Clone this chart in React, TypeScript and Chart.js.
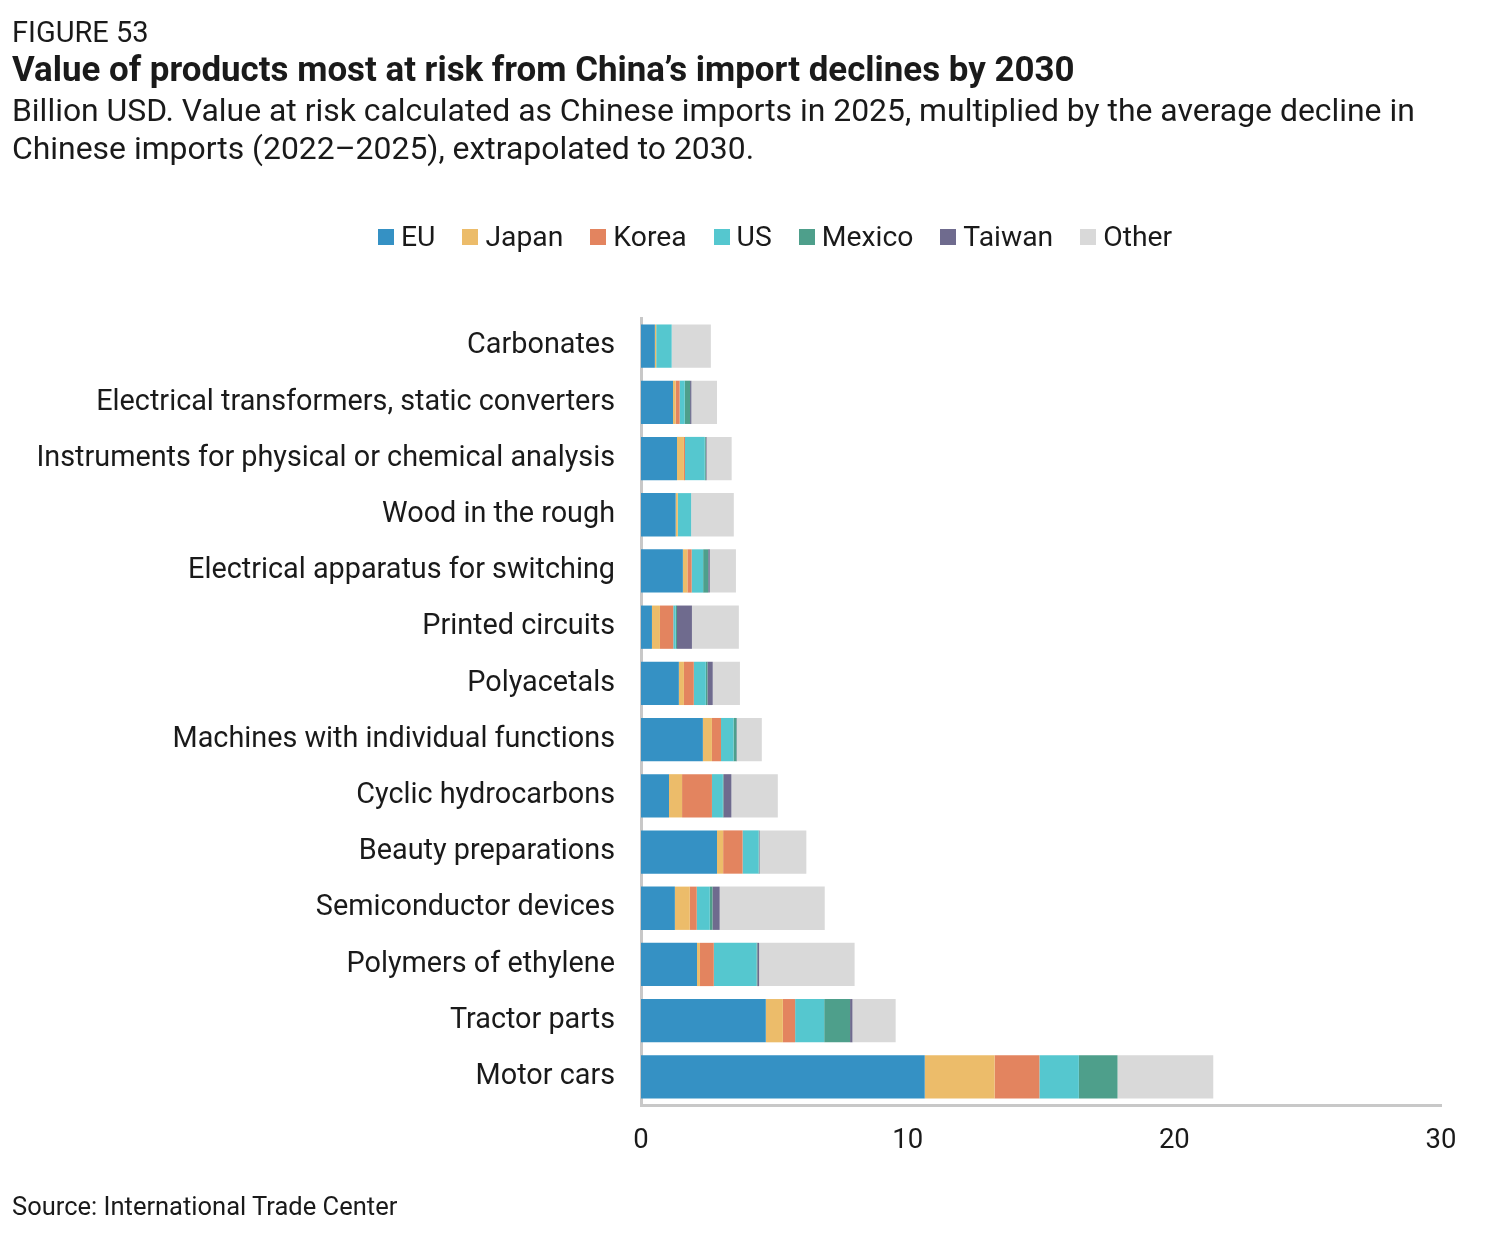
import React, { useEffect, useRef } from "react";
import { Chart, registerables } from "chart.js";

Chart.register(...registerables);

const categories = [
  "Carbonates",
  "Electrical transformers, static converters",
  "Instruments for physical or chemical analysis",
  "Wood in the rough",
  "Electrical apparatus for switching",
  "Printed circuits",
  "Polyacetals",
  "Machines with individual functions",
  "Cyclic hydrocarbons",
  "Beauty preparations",
  "Semiconductor devices",
  "Polymers of ethylene",
  "Tractor parts",
  "Motor cars",
];

const seriesNames = ["EU", "Japan", "Korea", "US", "Mexico", "Taiwan", "Other"];
const seriesColors = ["#3591c4", "#ecbc6a", "#e3845f", "#55c7cf", "#4e9f8b", "#6f6b8e", "#d9d9d9"];

const euValues = [0.52, 1.2, 1.35, 1.3, 1.57, 0.41, 1.42, 2.32, 1.05, 2.85, 1.27, 2.1, 4.68, 10.64];
const japanValues = [0.05, 0.1, 0.26, 0.08, 0.17, 0.3, 0.19, 0.34, 0.49, 0.23, 0.56, 0.11, 0.64, 2.62];
const koreaValues = [0.0, 0.15, 0.04, 0.0, 0.16, 0.5, 0.37, 0.34, 1.12, 0.73, 0.26, 0.52, 0.46, 1.68];
const usValues = [0.58, 0.19, 0.74, 0.5, 0.43, 0.09, 0.45, 0.47, 0.41, 0.6, 0.49, 1.6, 1.09, 1.48];
const mexicoValues = [0.0, 0.2, 0.04, 0.0, 0.19, 0.05, 0.06, 0.11, 0.02, 0.02, 0.1, 0.03, 0.97, 1.45];
const taiwanValues = [0.0, 0.05, 0.03, 0.0, 0.06, 0.56, 0.2, 0.02, 0.3, 0.02, 0.27, 0.07, 0.09, 0.0];
const otherValues = [1.47, 0.96, 0.94, 1.6, 0.98, 1.76, 1.02, 0.93, 1.74, 1.75, 3.94, 3.58, 1.62, 3.59];

const xTicks = [0, 10, 20, 30];

const seriesValues = [euValues, japanValues, koreaValues, usValues, mexicoValues, taiwanValues, otherValues];

const FONT = "Roboto, 'Noto Sans', sans-serif";
const TEXT = "#1a1a1a";

export default function App() {
  const canvasRef = useRef<HTMLCanvasElement | null>(null);

  useEffect(() => {
    document.body.style.margin = "0";
    const canvas = canvasRef.current;
    if (!canvas) return;
    const chart = new Chart(canvas, {
      type: "bar",
      data: {
        labels: categories,
        datasets: seriesNames.map((name, i) => ({
          label: name,
          data: seriesValues[i],
          backgroundColor: seriesColors[i],
          borderWidth: 0,
          barPercentage: 0.77,
          categoryPercentage: 1,
        })),
      },
      options: {
        animation: false,
        responsive: false,
        indexAxis: "y",
        layout: { padding: { left: 0, right: 71, top: 318, bottom: 69 } },
        plugins: {
          legend: { display: false },
          tooltip: { enabled: false },
          title: { display: false },
        },
        scales: {
          x: {
            stacked: true,
            min: 0,
            max: 30,
            afterBuildTicks: (scale: any) => {
              scale.ticks = xTicks.map((v) => ({ value: v }));
            },
            afterFit: (scale: any) => {
              scale.height = 60;
            },
            grid: { display: false, drawTicks: false },
            border: { display: true, color: "#c8c8c8", width: 3 },
            ticks: {
              color: TEXT,
              font: { family: FONT, size: 27.5 },
              padding: 20,
            },
          },
          y: {
            stacked: true,
            afterFit: (scale: any) => {
              scale.width = 641;
            },
            grid: { display: false, drawTicks: false },
            border: { display: true, color: "#c8c8c8", width: 3 },
            ticks: {
              color: TEXT,
              font: { family: FONT, size: 28.8 },
              padding: 26,
              autoSkip: false,
            },
          },
        },
      },
    });
    return () => chart.destroy();
  }, []);

  const textBase: React.CSSProperties = {
    position: "absolute",
    left: 12,
    fontFamily: FONT,
    color: TEXT,
    whiteSpace: "nowrap",
    margin: 0,
  };

  return (
    <div style={{ position: "relative", width: 1512, height: 1234, background: "#fff", overflow: "hidden" }}>
      <canvas ref={canvasRef} width={1512} height={1234} style={{ position: "absolute", left: 0, top: 0, width: 1512, height: 1234 }} />
      <div style={{ ...textBase, top: 13, fontSize: 29, lineHeight: "38px" }}>FIGURE 53</div>
      <div style={{ ...textBase, top: 49, fontSize: 34.9, fontWeight: 700, lineHeight: "42px" }}>
        Value of products most at risk from China’s import declines by 2030
      </div>
      <div style={{ ...textBase, top: 91, fontSize: 31.9, lineHeight: "38px" }}>
        Billion USD. Value at risk calculated as Chinese imports in 2025, multiplied by the average decline in
        <br />
        Chinese imports (2022–2025), extrapolated to 2030.
      </div>
      <div
        style={{
          position: "absolute",
          top: 219,
          left: 378,
          display: "flex",
          alignItems: "center",
          fontFamily: FONT,
          fontSize: 28.3,
          color: TEXT,
          lineHeight: "36px",
          whiteSpace: "nowrap",
        }}
      >
        {seriesNames.map((name, i) => (
          <div key={name} style={{ display: "flex", alignItems: "center", marginRight: i < seriesNames.length - 1 ? 27 : 0 }}>
            <span style={{ display: "inline-block", width: 16, height: 16, background: seriesColors[i], marginRight: 7 }} />
            <span>{name}</span>
          </div>
        ))}
      </div>
      <div style={{ ...textBase, top: 1189, fontSize: 25.5, lineHeight: "34px" }}>Source: International Trade Center</div>
    </div>
  );
}
